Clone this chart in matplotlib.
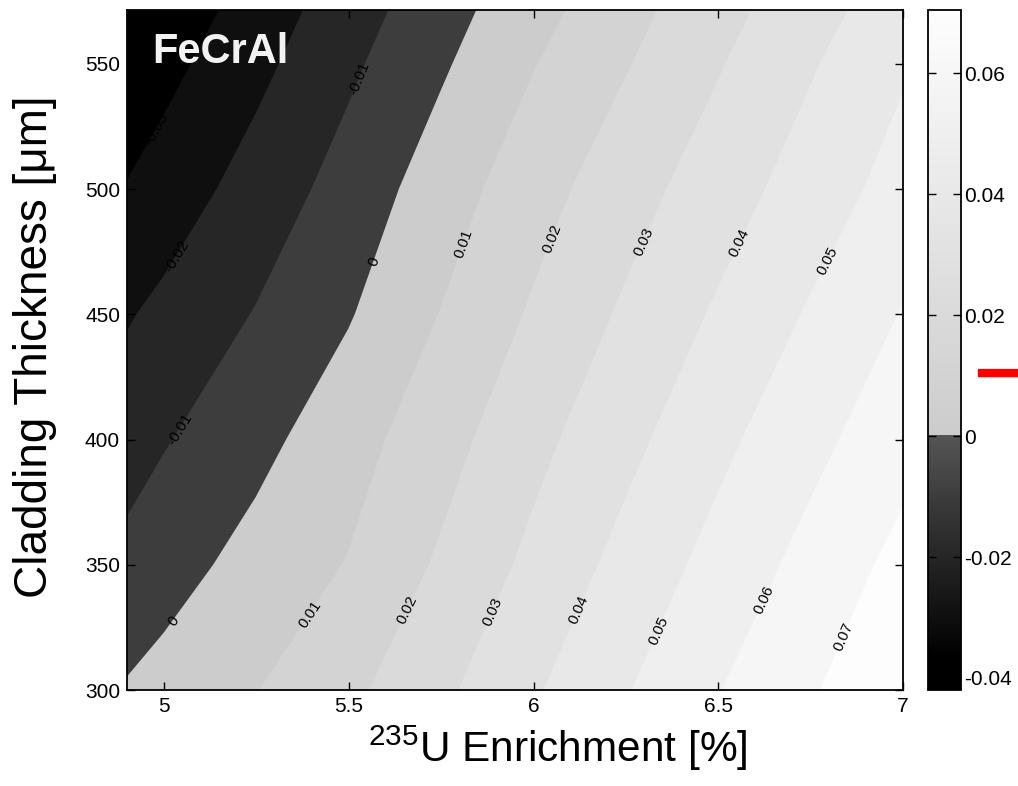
import numpy as np
import matplotlib
matplotlib.use('Agg')
import matplotlib.pyplot as plt
from matplotlib.colors import ListedColormap, Normalize
from matplotlib.cm import ScalarMappable
from matplotlib.patches import Rectangle

##### Data #############################################################
enrichment = [4.9, 5.0, 5.25, 5.5, 5.75, 6.0, 6.25, 6.5, 6.75, 7.0]
thickness = [300, 350, 400, 450, 500, 550, 572]

dk_300 = [0.0008, 0.0033, 0.0097, 0.0177, 0.0279, 0.0388, 0.0493, 0.0596, 0.0690, 0.0783]
dk_350 = [-0.0072, -0.0040, 0.0034, 0.0105, 0.0214, 0.0324, 0.0432, 0.0534, 0.0632, 0.0730]
dk_400 = [-0.0146, -0.0108, -0.0029, 0.0059, 0.0161, 0.0271, 0.0372, 0.0475, 0.0571, 0.0664]
dk_450 = [-0.0209, -0.0176, -0.0095, -0.0008, 0.0103, 0.0212, 0.0315, 0.0413, 0.0510, 0.0605]
dk_500 = [-0.0295, -0.0256, -0.0159, -0.0061, 0.0050, 0.0159, 0.0258, 0.0352, 0.0446, 0.0539]
dk_550 = [-0.0372, -0.0331, -0.0227, -0.0119, -0.0014, 0.0095, 0.0193, 0.0292, 0.0390, 0.0488]
dk_572 = [-0.0411, -0.0367, -0.0257, -0.0147, -0.0041, 0.0063, 0.0165, 0.0264, 0.0360, 0.0456]

levels = [-0.05, -0.04, -0.03, -0.02, -0.01, 0.0, 0.01, 0.02, 0.03, 0.04, 0.05, 0.06, 0.07, 0.08]

# where each contour label sits (enrichment, thickness)
label_pos = [(4.99, 523), (5.545, 543), (5.05, 472), (5.585, 470), (5.815, 478),
             (6.05, 480), (6.31, 478), (6.564, 478), (6.797, 471),
             (5.003, 408), (5.022, 328), (5.398, 330), (5.671, 331), (5.896, 331),
             (6.137, 331), (6.348, 323), (6.635, 335), (6.846, 321)]

cbar_ticks = [-0.04, -0.02, 0, 0.02, 0.04, 0.06]
cbar_lim = (-0.042, 0.0705)

##### Fonts ############################################################
plt.rcParams.update({
    'font.family': ['Liberation Sans', 'DejaVu Sans'],
    'mathtext.fontset': 'custom',
    'mathtext.rm': 'Liberation Sans',
})


def grey(v):
    """Grey level: dark ramp below zero, light ramp above."""
    if v < 0:
        g = max(0.0, 84 + 2300 * v)
    else:
        g = min(255.0, 204 + 700 * v)
    return (g / 255, g / 255, g / 255)


X, Y = np.meshgrid(enrichment, thickness)
Z = np.array([dk_300, dk_350, dk_400, dk_450, dk_500, dk_550, dk_572])

##### Create plot ######################################################
fig = plt.figure(figsize=(10.18, 7.86), dpi=100)
ax = fig.add_axes([0.1248, 0.1221, 0.7623, 0.8652])

fill_cols = [grey(l) for l in levels[:-1]]
cf = ax.contourf(X, Y, Z, levels=levels, colors=fill_cols, antialiased=True)
cf.set_edgecolor('face')

cs = ax.contour(X, Y, Z, levels=levels[1:-1], colors='k', linewidths=0)


def fmt(v):
    v = round(v, 2)
    if abs(v) < 1e-9:
        return '0'
    return '%g' % v


ax.clabel(cs, fmt=fmt, manual=label_pos, inline=False, fontsize=11, colors='k')

ax.set_xlim(4.9, 7.0)
ax.set_ylim(300, 571.5)
ax.set_xticks([5, 5.5, 6, 6.5, 7])
ax.set_xticklabels(['5', '5.5', '6', '6.5', '7'])
ax.set_yticks([300, 350, 400, 450, 500, 550])
ax.tick_params(direction='in', top=True, right=True, length=6, width=1,
               labelsize=15, pad=5)
for s in ax.spines.values():
    s.set_linewidth(1.3)

##### Material name ####################################################
ax.text(0.032, 0.922, 'FeCrAl', transform=ax.transAxes, color='#f2f2f2',
        fontsize=30, fontweight='bold', ha='left', va='baseline')

##### Colorbar #########################################################
cax = fig.add_axes([0.9116, 0.1221, 0.0324, 0.8652])
cmap = ListedColormap([grey(v) for v in np.linspace(cbar_lim[0], cbar_lim[1], 256)])
sm = ScalarMappable(norm=Normalize(*cbar_lim), cmap=cmap)
cb = fig.colorbar(sm, cax=cax, ticks=cbar_ticks)
cb.ax.set_yticklabels(['-0.04', '-0.02', '0', '0.02', '0.04', '0.06'])
cb.ax.tick_params(direction='in', left=True, right=True, length=6, width=1,
                  labelsize=15, pad=2)
cb.outline.set_linewidth(1.3)

##### Axis labels ######################################################
fig.text(558 / 1018, 1 - 748 / 786, r'$\mathregular{^{235}}$U Enrichment [%]',
         fontsize=30.5, ha='center', va='center')
fig.text(35 / 1018, 1 - 347 / 786, 'Cladding Thickness [\u03bcm]',
         fontsize=33, ha='center', va='center', rotation=90)

##### Red marker at the right edge #####################################
fig.patches.append(Rectangle((978 / 1018, 1 - 376 / 786), 40 / 1018, 7 / 786,
                             transform=fig.transFigure, color='#ff0000',
                             figure=fig))

plt.savefig('out.png', dpi=100)
